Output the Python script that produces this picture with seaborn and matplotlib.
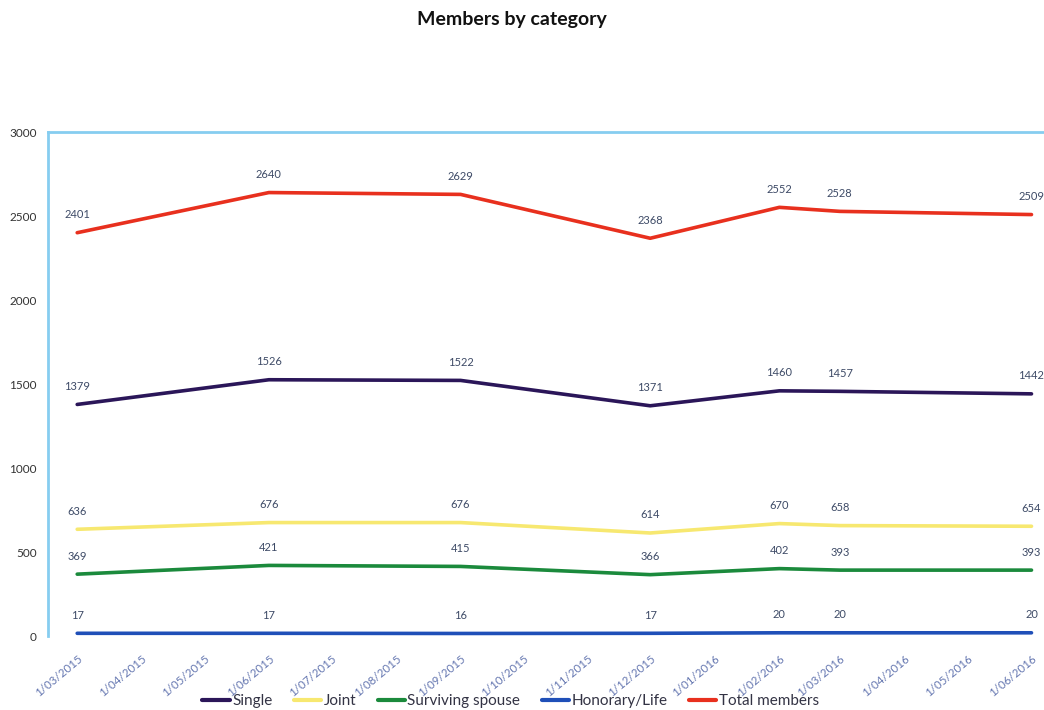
import matplotlib
matplotlib.use("Agg")
import matplotlib.pyplot as plt
import matplotlib.dates as mdates
import seaborn as sns
import pandas as pd
import datetime as dt

dates = ["2015-03-01", "2015-06-01", "2015-09-01", "2015-12-01",
         "2016-02-01", "2016-03-01", "2016-06-01"]
single = [1379, 1526, 1522, 1371, 1460, 1457, 1442]
joint = [636, 676, 676, 614, 670, 658, 654]
surviving = [369, 421, 415, 366, 402, 393, 393]
honorary = [17, 17, 16, 17, 20, 20, 20]
total = [2401, 2640, 2629, 2368, 2552, 2528, 2509]

series_names = ["Single", "Joint", "Surviving spouse", "Honorary/Life", "Total members"]
series_values = [single, joint, surviving, honorary, total]
colors = ["#2B1659", "#F7E870", "#1B8A3C", "#1F4FB8", "#E8301E"]

rows = []
for name, vals in zip(series_names, series_values):
    for d, v in zip(dates, vals):
        rows.append({"date": pd.Timestamp(d), "members": v, "category": name})
df = pd.DataFrame(rows)

sns.set_theme(style="white")
plt.rcParams["font.family"] = ["Lato", "DejaVu Sans"]

fig = plt.figure(figsize=(10.44, 7.10), dpi=100)
ax = fig.add_axes([0.046, 0.104, 0.954, 0.710])

sns.lineplot(data=df, x="date", y="members", hue="category",
             hue_order=series_names, palette=colors, linewidth=2.6, ax=ax)

for name, vals in zip(series_names, series_values):
    for d, v in zip(dates, vals):
        ax.annotate(str(v), (mdates.date2num(pd.Timestamp(d)), v),
                    xytext=(0, 9), textcoords="offset points",
                    ha="center", va="bottom", fontsize=8, color="#3D4A66")

ax.set_ylim(0, 3000)
ax.set_yticks(range(0, 3001, 500))
ax.set_xlim(mdates.date2num(dt.date(2015, 3, 1)) - 14,
            mdates.date2num(dt.date(2016, 6, 1)) + 6)
month_ticks = pd.date_range("2015-03-01", "2016-06-01", freq="MS")
ax.set_xticks(mdates.date2num(month_ticks))
ax.set_xticklabels([f"{t.day}/{t.month:02d}/{t.year}" for t in month_ticks],
                   rotation=40, ha="right", rotation_mode="anchor",
                   fontsize=8.3, color="#6476B0")
ax.tick_params(axis="y", labelsize=8.5, colors="#333333", pad=2)
ax.tick_params(axis="x", pad=6)
ax.set_xlabel("")
ax.set_ylabel("")

for s in ["right", "bottom"]:
    ax.spines[s].set_visible(False)
for s in ["left", "top"]:
    ax.spines[s].set_color("#86CDF0")
    ax.spines[s].set_linewidth(2)

handles, labels = ax.get_legend_handles_labels()
ax.get_legend().remove()
leg = fig.legend(handles, labels, loc="center", bbox_to_anchor=(0.489, 0.012),
                 ncol=5, frameon=False, fontsize=11, handlelength=1.8,
                 handletextpad=0.15, columnspacing=1.4)
for t in leg.get_texts():
    t.set_color("#333344")
for line in leg.get_lines():
    line.set_linewidth(3)

fig.text(0.49, 0.972, "Members by category", ha="center", va="center",
         fontsize=14, fontweight="bold", color="#111111")

fig.savefig("out.png", dpi=100)
